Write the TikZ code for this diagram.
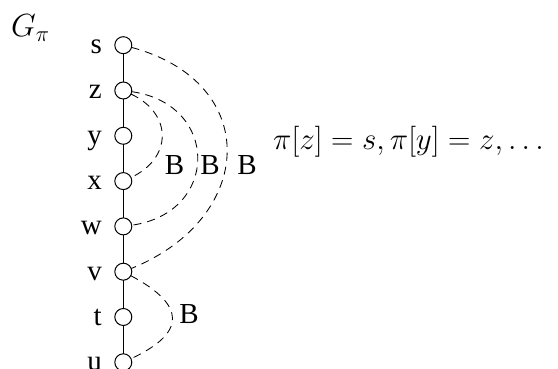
\RequirePackage{fix-cm}
\documentclass[tikz,border=0pt]{standalone}
\usepackage{fontspec}
\newfontfamily\tms{Liberation Serif}
\begin{document}
\begin{tikzpicture}[x=1pt,y=1pt,
  vert/.style={circle,draw,line width=1pt,minimum size=17pt,inner sep=0pt,outer sep=0pt,fill=white},
  vlabel/.style={anchor=base east,inner sep=0pt,font=\tms\fontsize{29}{34}\selectfont},
  blabel/.style={anchor=base,inner sep=0pt,font=\tms\fontsize{29}{34}\selectfont},
  tree/.style={line width=1pt},
  back/.style={line width=0.85pt,dash pattern=on 8pt off 6pt}]
\useasboundingbox (0,0) rectangle (558,369);
% vertices
\foreach \n/\yy in {s/323.8,z/278.5,y/233.2,x/187.9,w/142.6,v/97.3,t/52.0,u/6.7}{
  \node[vert] (\n) at (123.3,\yy) {};
  \node[vlabel] (l\n) at (102,\yy-8.5) {\n};
}
% tree edges
\draw[tree] (s) -- (z) (z) -- (y) (y) -- (x) (x) -- (w) (w) -- (v) (v) -- (t) (t) -- (u);
% back edges
\draw[back] (s.-15) .. controls +(-15:135pt) and +(22:135pt) .. (v.22);
\draw[back] (z.-8) .. controls +(-8:89pt) and +(8:89pt) .. (w.8);
\draw[back] (z.-25) .. controls +(-25:46pt) and +(25:46pt) .. (x.25);
\draw[back] (v.-28) .. controls +(-28:62pt) and +(25:62pt) .. (u.25);
% labels
\node[blabel] (b1) at (174.5,194) {B};
\node[blabel] (b2) at (210,194) {B};
\node[blabel] (b3) at (247,194) {B};
\node[blabel] (b4) at (189,45) {B};
\node[anchor=base west,inner sep=0pt,font=\fontsize{32}{38}\selectfont] (g) at (11,332) {$G_\pi$};
\node[anchor=base west,inner sep=0pt,font=\fontsize{31}{37}\selectfont] (eq) at (273,219) {$\pi[z]=s,\pi[y]=z,\ldots$};
\end{tikzpicture}
\end{document}
